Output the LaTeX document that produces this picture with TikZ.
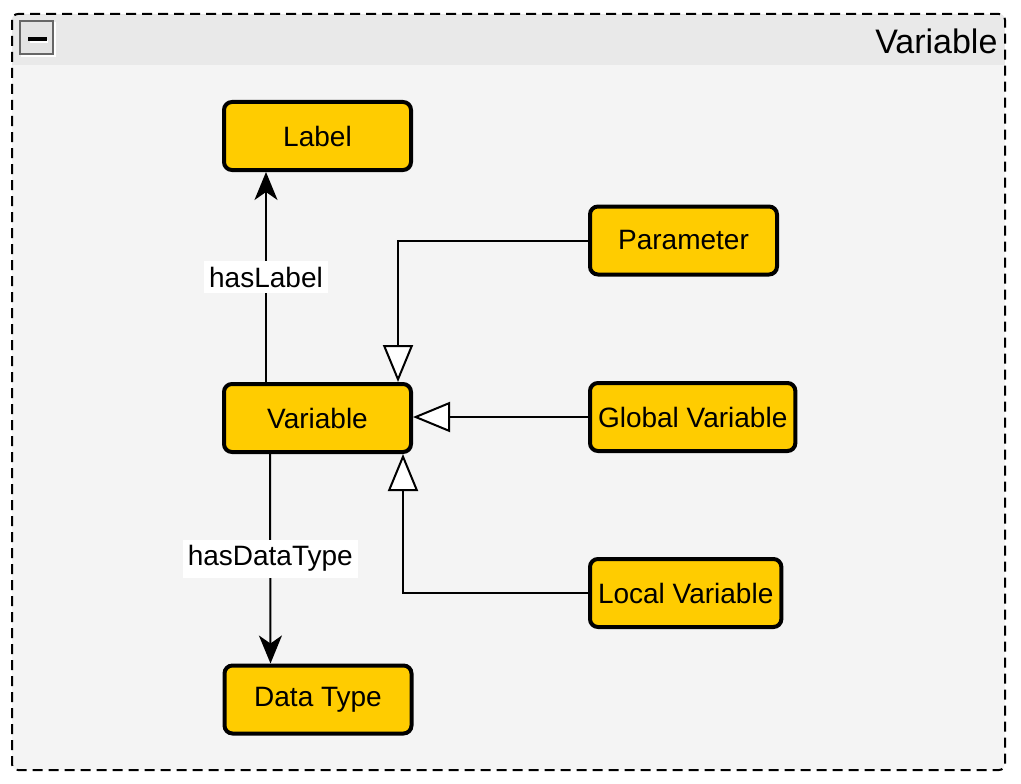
\documentclass[tikz,border=0pt]{standalone}
\usepackage{fontspec}
\setmainfont{Liberation Sans}
\usepackage[rgb]{xcolor}
\definecolor{conceptBody}{HTML}{FFCC00}
\definecolor{groupBody}{HTML}{F4F4F4}
\definecolor{groupHead}{HTML}{E9E9E9}
\definecolor{buttonBorder}{HTML}{666666}
\definecolor{buttonBody}{HTML}{E3E3E3}
\usepackage{tikz}
\usetikzlibrary{arrows.meta}
\usetikzlibrary{positioning}
\tikzstyle{concept} = [rectangle, rounded corners=8pt, fill=conceptBody, draw=black,
        line width=4pt, minimum width=187pt, minimum height=68pt, inner xsep=8pt,
        font={\fontsize{28}{33}\selectfont}]
\tikzstyle{relation} = [line width=2pt, -{Stealth[length=28pt, width=23pt, inset=8pt]}]
\tikzstyle{subclass} = [line width=2pt, -{Triangle[length=37pt, width=30pt, fill=white]}]
\tikzstyle{relname} = [fill=white, inner xsep=5pt, inner ysep=6pt,
        font={\fontsize{28}{33}\selectfont}]

\begin{document}
\begin{tikzpicture}[x=1pt, y=-1pt]
            \useasboundingbox (0,0) rectangle (1021,784);
            \begin{scope}
                \clip[rounded corners=6pt] (12,14) rectangle (1005,770);
                \fill[groupBody] (12,14) rectangle (1005,770);
                \fill[groupHead] (12,14) rectangle (1005,65);
            \end{scope}
            \draw[dashed, dash pattern=on 10pt off 6pt, line width=2pt, rounded corners=6pt]
                (12,14) rectangle (1005,770);
            \draw[white, line width=2pt] (22,23) rectangle (55,56);
            \draw[buttonBorder, fill=buttonBody, line width=2pt] (20,21) rectangle (53,54);
            \fill[white] (30,40) rectangle (48,43);
            \fill[black] (28,37) rectangle (47,41);
            \node[anchor=east, font={\fontsize{34}{40}\selectfont}] (title) at (1001,41) {Variable};

            \node[concept] (lbl) at (317.5,136) {Label};
            \node[concept] (var) at (317.5,418) {Variable};
            \node[concept] (dtype) at (318,699.5) {Data Type};
            \node[concept, anchor=west] (param) at (588,240.5) {Parameter};
            \node[concept, anchor=west] (glob) at (588,417) {Global Variable};
            \node[concept, anchor=west] (loc) at (588,593) {Local Variable};

            \draw[relation] ([xshift=44pt]var.north west) -- ([xshift=44pt]lbl.south west)
                node[relname, midway] (haslbl) {hasLabel};
            \draw[relation] ([xshift=48pt]var.south west) -- ([xshift=48pt]dtype.north west)
                node[relname, midway] (hasdt) {hasDataType};
            \draw[subclass] (param.west) -| ([xshift=-15pt]var.north east);
            \draw[subclass] (glob.west) -- (glob.west -| var.east);
            \draw[subclass] (loc.west) -| ([xshift=-10pt]var.south east);
        \end{tikzpicture}
\end{document}
